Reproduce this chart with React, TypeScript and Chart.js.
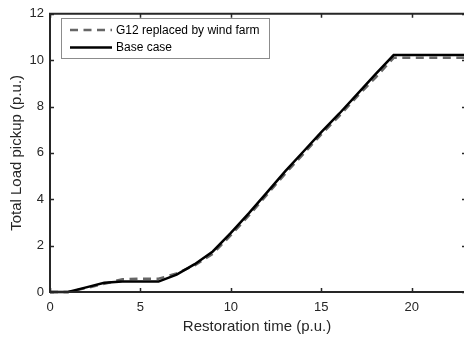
import React, { useEffect, useRef } from "react";
import { Chart, registerables } from "chart.js";

Chart.register(...registerables);

const timeSteps = [0, 1, 2, 3, 4, 5, 6, 7, 8, 9, 10, 11, 12, 13, 14, 15, 16, 17, 18, 19, 20, 21, 22, 23];
const baseCase = [0, 0, 0.2, 0.4, 0.45, 0.45, 0.45, 0.75, 1.2, 1.75, 2.55, 3.4, 4.3, 5.2, 6.05, 6.9, 7.7, 8.55, 9.4, 10.22, 10.22, 10.22, 10.22, 10.22];
const windFarm = [0, 0, 0.17, 0.35, 0.55, 0.57, 0.57, 0.8, 1.15, 1.65, 2.45, 3.3, 4.2, 5.1, 5.95, 6.8, 7.6, 8.45, 9.25, 10.1, 10.1, 10.1, 10.1, 10.1];
const xTicks = [0, 5, 10, 15, 20];
const yTicks = [0, 2, 4, 6, 8, 10, 12];
const legendLabels = ["G12 replaced by wind farm", "Base case"];
const xTitle = "Restoration time (p.u.)";
const yTitle = "Total Load pickup (p.u.)";

const FONT = '"Liberation Sans", Arial, Helvetica, sans-serif';
const AXIS = "#262626";
const GRAY = "#666666";

const framePlugin = {
  id: "frame",
  afterDraw(chart: any) {
    const { ctx, chartArea, scales } = chart;
    const { left, right, top, bottom } = chartArea;
    const xs = scales.x;
    const ys = scales.y;
    ctx.save();
    ctx.strokeStyle = AXIS;
    ctx.lineWidth = 2;
    ctx.beginPath();
    ctx.rect(left, top, right - left, bottom - top);
    ctx.stroke();
    ctx.lineWidth = 1.5;
    ctx.beginPath();
    const tl = 4;
    xTicks.forEach((v) => {
      const px = Math.round(xs.getPixelForValue(v)) + 0.5;
      ctx.moveTo(px, bottom);
      ctx.lineTo(px, bottom - tl);
      ctx.moveTo(px, top);
      ctx.lineTo(px, top + tl);
    });
    yTicks.forEach((v) => {
      const py = Math.round(ys.getPixelForValue(v)) + 0.5;
      ctx.moveTo(left, py);
      ctx.lineTo(left + tl, py);
      ctx.moveTo(right, py);
      ctx.lineTo(right - tl, py);
    });
    ctx.stroke();

    // titles
    ctx.fillStyle = AXIS;
    ctx.font = `15px ${FONT}`;
    ctx.textAlign = "center";
    ctx.textBaseline = "middle";
    ctx.fillText(xTitle, (left + right) / 2 - 1, 327);
    ctx.save();
    ctx.translate(17, (top + bottom) / 2);
    ctx.rotate(-Math.PI / 2);
    ctx.fillText(yTitle, 0, 0);
    ctx.restore();

    // legend
    const lx = 61.5, ly = 18.5, lw = 208, lh = 40;
    ctx.fillStyle = "#ffffff";
    ctx.fillRect(lx, ly, lw, lh);
    ctx.strokeStyle = "#8c8c8c";
    ctx.lineWidth = 1;
    ctx.strokeRect(lx, ly, lw, lh);
    const rows = [
      { y: 30, color: GRAY, dash: [8, 5.5], width: 2.5 },
      { y: 47.5, color: "#000000", dash: [], width: 2.5 },
    ];
    rows.forEach((r, i) => {
      ctx.beginPath();
      ctx.strokeStyle = r.color;
      ctx.lineWidth = r.width;
      ctx.setLineDash(r.dash);
      ctx.moveTo(70, r.y);
      ctx.lineTo(112, r.y);
      ctx.stroke();
      ctx.setLineDash([]);
      ctx.fillStyle = "#000000";
      ctx.font = `12px ${FONT}`;
      ctx.textAlign = "left";
      ctx.textBaseline = "middle";
      ctx.fillText(legendLabels[i], 116, r.y + 0.5);
    });
    ctx.restore();
  },
};

export default function App() {
  const ref = useRef<HTMLCanvasElement | null>(null);
  useEffect(() => {
    document.body.style.margin = "0";
    document.body.style.overflow = "hidden";
    const canvas = ref.current;
    if (!canvas) return;
    const chart = new Chart(canvas, {
      type: "line",
      data: {
        labels: timeSteps,
        datasets: [
          {
            label: legendLabels[1],
            data: timeSteps.map((t, i) => ({ x: t, y: baseCase[i] })),
            borderColor: "#000000",
            borderWidth: 2.5,
            pointRadius: 0,
            tension: 0,
            clip: false as any,
          },
          {
            label: legendLabels[0],
            data: timeSteps.map((t, i) => ({ x: t, y: windFarm[i] })),
            borderColor: GRAY,
            borderWidth: 2.5,
            borderDash: [8, 5.5],
            pointRadius: 0,
            tension: 0,
            clip: false as any,
          },
        ],
      },
      options: {
        animation: false,
        responsive: false,
        maintainAspectRatio: false,
        devicePixelRatio: 1,
        layout: { padding: { top: 12, right: 1, left: 0, bottom: 0 } },
        plugins: { legend: { display: false }, tooltip: { enabled: false } },
        scales: {
          x: {
            type: "linear",
            min: 0,
            max: 23,
            grid: { display: false, drawTicks: false },
            border: { display: false },
            afterFit: (s: any) => {
              s.height = 47;
            },
            afterBuildTicks: (s: any) => {
              s.ticks = xTicks.map((v) => ({ value: v }));
            },
            ticks: {
              color: AXIS,
              font: { family: FONT, size: 13 },
              padding: 8,
              maxRotation: 0,
              autoSkip: false,
            },
          },
          y: {
            type: "linear",
            min: 0,
            max: 12,
            grid: { display: false, drawTicks: false },
            border: { display: false },
            afterFit: (s: any) => {
              s.width = 50;
            },
            afterBuildTicks: (s: any) => {
              s.ticks = yTicks.map((v) => ({ value: v }));
            },
            ticks: {
              color: AXIS,
              font: { family: FONT, size: 13 },
              padding: 6,
              autoSkip: false,
            },
          },
        },
      },
      plugins: [framePlugin],
    });
    return () => chart.destroy();
  }, []);
  return (
    <div style={{ position: "absolute", left: 0, top: 0, width: 467, height: 339, overflow: "hidden", background: "#fff" }}>
      <canvas ref={ref} width={467} height={339} />
    </div>
  );
}
